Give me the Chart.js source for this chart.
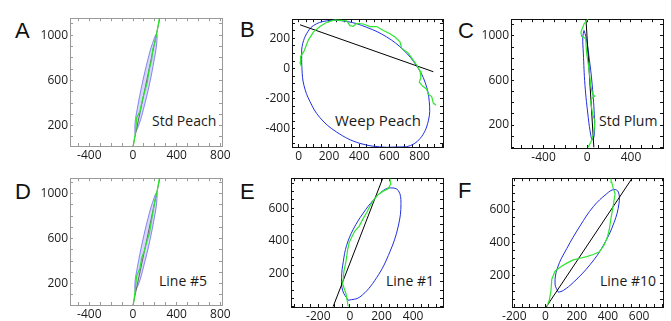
<!DOCTYPE html>
<html>
<head>
<meta charset="utf-8">
<script src="https://cdn.jsdelivr.net/npm/chart.js@4"></script>
<style>
  body { margin: 0; width: 671px; height: 321px; background: #fff; position: relative; overflow: hidden; font-family: "Open Sans", sans-serif; }
  canvas, .tag, .lbl { position: absolute; }
  .tag { font: 22px "Liberation Sans", Arial, sans-serif; line-height: 22px; color: #111; }
  .lbl { font-size: 14px; line-height: 20px; color: #1a1a1a; white-space: nowrap; }
</style>
</head>
<body>
<div class="tag" style="left:15px;top:20px">A</div>
<div class="tag" style="left:240px;top:19px">B</div>
<div class="tag" style="left:458px;top:20px">C</div>
<div class="tag" style="left:15px;top:181px">D</div>
<div class="tag" style="left:240px;top:181px">E</div>
<div class="tag" style="left:458px;top:180px">F</div>
<div class="lbl" style="left:152px;top:111px">Std Peach</div>
<div class="lbl" style="left:335px;top:110px;font-size:15px">Weep Peach</div>
<div class="lbl" style="left:599px;top:111px">Std Plum</div>
<div class="lbl" style="left:159px;top:271px">Line #5</div>
<div class="lbl" style="left:386px;top:271px">Line #1</div>
<div class="lbl" style="left:600px;top:271px">Line #10</div>
<script>
// traced branch outline (green), fitted ellipse (blue), principal axis (black)

const aTrace = [[3,20],[25,157],[34,271],[64,328],[89,442],[119,542],[131,585],[149,699],[171,785],[180,871],[201,942],[217,1014],[241,1148]];
const aAxis = [[0,20],[245,1150]];
const aEllipse = [[18,128],[18,217],[39,350],[84,571],[138,793],[177,925],[217,1014],[217,925],[196,793],[152,571],[97,350],[58,217],[18,128]];

const bTrace = [[20,6],[8,40],[12,80],[34,114],[63,189],[96,242],[140,279],[185,307],[240,324],[317,317],[339,285],[361,281],[383,300],[427,296],[472,279],[516,279],[560,253],[604,232],[637,210],[670,178],[681,135],[725,103],[758,56],[785,17],[803,-15],[809,-58],[798,-90],[820,-116],[847,-137],[858,-171],[880,-186],[891,-229],[909,-244]];
const bAxis = [[8,291],[891,-21]];
const bEllipse = [[19,124],[21,-4],[34,-111],[74,-219],[140,-326],[251,-422],[405,-497],[582,-523],[715,-519],[803,-465],[858,-347],[864,-219],[836,-90],[781,17],[692,124],[582,210],[450,274],[317,313],[185,317],[96,285],[52,232],[26,167],[19,124]];

const cTrace = [[9,1157],[-30,1107],[-58,1035],[-52,997],[-15,977],[-6,846],[16,701],[31,557],[49,475],[68,461],[43,440],[31,411],[49,296],[70,237],[61,136],[40,63],[18,20],[6,0]];
const cAxis = [[60,0],[-12,1150]];
const cEllipse = [[-30,1049],[-41,991],[-36,846],[-21,557],[9,267],[32,110],[45,68],[62,100],[66,250],[45,560],[15,820],[-12,991],[-30,1049]];

const dTrace = [[3,8],[18,123],[34,267],[64,338],[79,425],[101,482],[125,569],[149,640],[171,770],[186,856],[201,942],[217,1000],[241,1135]];
const dAxis = [[0,8],[245,1135]];
const dEllipse = [[18,123],[18,212],[40,345],[85,566],[139,788],[178,920],[217,1012],[217,920],[196,788],[151,566],[96,345],[58,212],[18,123]];

const eTrace = [[-11,0],[-25,78],[-46,137],[-38,216],[-25,275],[-15,344],[-4,393],[11,422],[32,462],[59,491],[80,530],[106,574],[127,613],[152,653],[179,684],[211,704],[242,718],[258,747],[253,781]];
const eAxis = [[-106,0],[207,781]];
const eEllipse = [[-11,38],[63,58],[169,176],[253,334],[306,491],[323,629],[306,708],[258,724],[211,708],[148,649],[84,570],[21,471],[-21,373],[-42,275],[-53,176],[-46,97],[-11,38]];

const fTrace = [[8,8],[24,47],[35,107],[40,176],[61,225],[93,249],[136,274],[178,294],[221,304],[264,314],[306,327],[345,343],[375,383],[396,432],[409,481],[418,540],[431,609],[441,669],[446,698],[435,728],[424,767],[420,791]];
const fAxis = [[0,0],[553,790]];
const fEllipse = [[82,96],[61,146],[76,244],[136,363],[221,501],[306,619],[392,698],[439,724],[467,708],[471,639],[439,521],[371,383],[285,264],[178,156],[114,107],[82,96]];

// tick labels
const xTicksWide = [-400, 0, 400, 800];
const yTicksTall = [200, 600, 1000];
const xTicksB = [0, 200, 400, 600, 800];
const yTicksB = [-400, -200, 0, 200];
const xTicksC = [-400, 0, 400];
const xTicksE = [-200, 0, 200, 400];
const xTicksF = [-200, 0, 200, 400, 600];
const yTicksEF = [200, 400, 600];

const GREEN = '#2ee62e';
const BLUE = '#1f2fe0';

Chart.defaults.font.family = 'Open Sans';

function pts(arr) {
  return arr.map(p => ({ x: p[0], y: p[1] }));
}

function axis(pos, range, majors, step, color, show) {
  const horiz = pos === 'top' || pos === 'bottom';
  return {
    type: 'linear',
    position: pos,
    min: range[0],
    max: range[1],
    border: { color: color, width: 1 },
    grid: { drawOnChartArea: false, drawTicks: true, tickLength: -3, color: color },
    ticks: {
      display: show,
      autoSkip: false,
      includeBounds: false,
      maxRotation: 0,
      padding: horiz ? 5 : 5,
      color: '#1a1a1a',
      font: { size: 12 },
      callback: v => majors.includes(v) ? String(v) : '',
    },
    afterBuildTicks: s => {
      const t = [];
      for (let v = Math.ceil(range[0] / step) * step; v <= range[1]; v += step) t.push({ value: v });
      s.ticks = t;
    },
    afterFit: s => {
      if (horiz) s.height = show ? 22 : 0;
      else s.width = show ? 48 : 0;
    },
  };
}

function panel(box, xr, yr, xMaj, yMaj, step, frame, trace, fit, ell, shaded) {
  const L = 48, T = 8, R = 14, B = 22;
  const cv = document.createElement('canvas');
  cv.width = box[2] - box[0] + L + R;
  cv.height = box[3] - box[1] + T + B;
  cv.style.left = (box[0] - L) + 'px';
  cv.style.top = (box[1] - T) + 'px';
  document.body.appendChild(cv);

  const datasets = [
    { data: pts(trace), borderColor: GREEN, borderWidth: 1.2, tension: 0 },
    { data: pts(fit), borderColor: shaded ? '#666' : '#000', borderWidth: 1, tension: 0 },
    {
      data: pts(ell),
      borderColor: shaded ? 'rgba(50,50,230,0.55)' : BLUE,
      backgroundColor: 'rgba(130,130,255,0.32)',
      borderWidth: 1,
      tension: 0.4,
      fill: shaded ? 'shape' : false,
    },
  ];
  datasets.forEach(d => { d.showLine = true; d.pointRadius = 0; d.pointHoverRadius = 0; if (d.fill === undefined) d.fill = false; });

  new Chart(cv, {
    type: 'scatter',
    data: { datasets: datasets },
    options: {
      responsive: false,
      animation: false,
      events: [],
      layout: { padding: { top: T, right: R, left: 0, bottom: 0 } },
      plugins: { legend: { display: false }, tooltip: { enabled: false } },
      scales: {
        x: axis('bottom', xr, xMaj, step[0], frame, true),
        y: axis('left', yr, yMaj, step[1], frame, true),
        x2: axis('top', xr, xMaj, step[0], frame, false),
        y2: axis('right', yr, yMaj, step[1], frame, false),
      },
    },
  });
}

panel([70, 14, 222, 146], [-577, 815], [20, 1151], xTicksWide, yTicksTall, [100, 100], '#9a9a9a', aTrace, aAxis, aEllipse, true);
panel([292, 15, 443, 147], [-45, 955], [-521, 328], xTicksB, yTicksB, [50, 50], '#111', bTrace, bAxis, bEllipse, false);
panel([511, 15, 663, 148], [-698, 693], [-6, 1150], xTicksC, yTicksTall, [100, 100], '#111', cTrace, cAxis, cEllipse, false);
panel([70, 174, 222, 305], [-577, 815], [8, 1138], xTicksWide, yTicksTall, [100, 100], '#9a9a9a', dTrace, dAxis, dEllipse, true);
panel([291, 174, 443, 307], [-373, 589], [-3, 783], xTicksE, yTicksEF, [50, 50], '#111', eTrace, eAxis, eEllipse, false);
panel([512, 174, 663, 307], [-215, 753], [6, 793], xTicksF, yTicksEF, [50, 50], '#111', fTrace, fAxis, fEllipse, false);
</script>
</body>
</html>
